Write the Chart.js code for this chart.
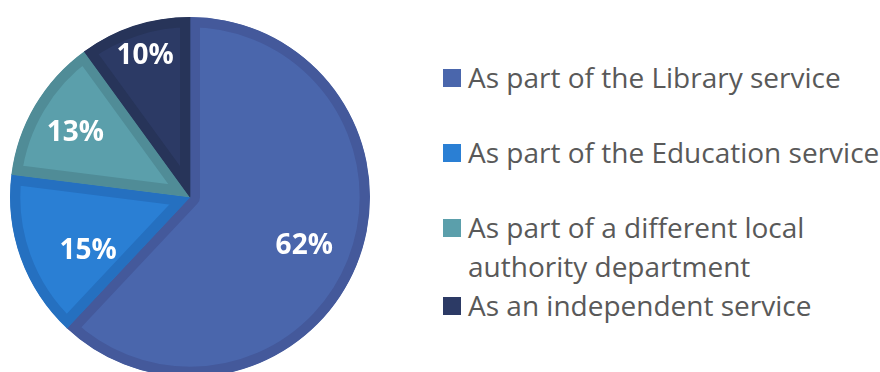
<!DOCTYPE html>
<html>
<head>
<meta charset="utf-8">
<script src="https://cdn.jsdelivr.net/npm/chart.js@4.4.1/dist/chart.umd.min.js"></script>
<style>
  html, body { margin: 0; padding: 0; background: #fff; overflow: hidden; }
  body { width: 880px; height: 372px; position: relative; }
  #pieBox { position: absolute; left: 0; top: 0; width: 380px; height: 380px; }
  #legend { position: absolute; left: 443px; top: 58px; width: 437px;
            font-family: "Open Sans", sans-serif; font-size: 28px; color: #595959; }
  .item { display: flex; align-items: flex-start; line-height: 39px; }
  .box { flex: 0 0 18px; width: 18px; height: 18px; margin: 11px 7px 0 0; }
  .txt { width: 412px; }
</style>
</head>
<body>
<div id="pieBox"><canvas id="pie"></canvas></div>
<div id="legend"></div>
<script>
// share of services by how they are run
const categories = [
  'As part of the Library service',
  'As part of the Education service',
  'As part of a different local authority department',
  'As an independent service'
];
const shares = [62, 15, 13, 10];

const fillColors = ['#4A66AC', '#2A7FD4', '#5B9FAB', '#2C3A65'];
const edgeColors = ['#44599B', '#2570C0', '#508C97', '#273459'];

// % label placement: fraction of radius, and nudge off the slice middle (degrees)
const labelRadius = [0.69, 0.64, 0.73, 0.82];
const labelTurn = [1.5, -8, -1.3, 0.3];
const itemGaps = [36, 36, 0, 0];

const sliceLabels = {
  id: 'sliceLabels',
  afterDatasetsDraw(chart) {
    const ctx = chart.ctx;
    const meta = chart.getDatasetMeta(0);
    ctx.save();
    ctx.font = 'bold 28px "Open Sans", sans-serif';
    ctx.fillStyle = '#ffffff';
    ctx.textAlign = 'center';
    ctx.textBaseline = 'middle';
    meta.data.forEach((arc, i) => {
      const p = arc.getProps(['x', 'y', 'startAngle', 'endAngle', 'outerRadius'], true);
      const mid = (p.startAngle + p.endAngle) / 2 + labelTurn[i] * Math.PI / 180;
      const r = p.outerRadius * labelRadius[i];
      ctx.fillText(shares[i] + '%', p.x + Math.cos(mid) * r, p.y + Math.sin(mid) * r);
    });
    ctx.restore();
  }
};

const chart = new Chart(document.getElementById('pie').getContext('2d'), {
  type: 'pie',
  data: {
    labels: categories,
    datasets: [{
      data: shares,
      backgroundColor: fillColors,
      borderColor: edgeColors,
      borderWidth: 10,
      borderAlign: 'inner'
    }]
  },
  options: {
    responsive: true,
    maintainAspectRatio: false,
    animation: false,
    layout: { padding: { left: 10, right: 10, top: 17, bottom: 3 } },
    plugins: {
      legend: { display: false },
      tooltip: { enabled: false }
    }
  },
  plugins: [sliceLabels]
});

// html legend built from the chart's own legend items
const legendEl = document.getElementById('legend');
chart.options.plugins.legend.labels.generateLabels(chart).forEach((item, i) => {
  const row = document.createElement('div');
  row.className = 'item';
  row.style.marginBottom = itemGaps[i] + 'px';
  const box = document.createElement('span');
  box.className = 'box';
  box.style.background = fillColors[i];
  const txt = document.createElement('span');
  txt.className = 'txt';
  txt.textContent = item.text;
  row.appendChild(box);
  row.appendChild(txt);
  legendEl.appendChild(row);
});
</script>
</body>
</html>
